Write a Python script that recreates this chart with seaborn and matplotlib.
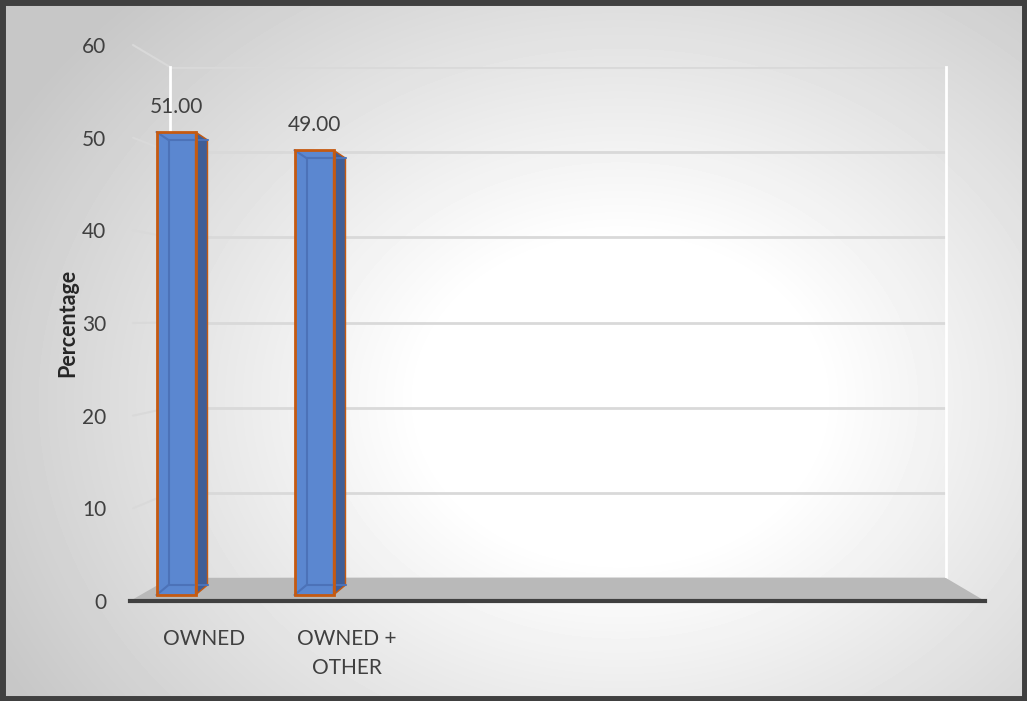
import numpy as np
import pandas as pd
import matplotlib
matplotlib.use("Agg")
import matplotlib.pyplot as plt
from matplotlib.patches import Polygon, Rectangle
from matplotlib.lines import Line2D
import seaborn as sns

# ---- data ----
categories = ["OWNED", "OWNED +\nOTHER"]
values = [51.00, 49.00]
y_ticks = [0, 10, 20, 30, 40, 50, 60]
n_slots = 6

sns.set_theme(style="white")
plt.rcParams["font.family"] = ["Lato", "DejaVu Sans"]

W, H = 1027, 701
fig = plt.figure(figsize=(W / 100, H / 100), dpi=100)


def frac(x0, x1, y_bottom, y_top):
    """pixel box (top-left origin) -> figure fraction rect"""
    return [x0 / W, (H - y_bottom) / H, (x1 - x0) / W, (y_bottom - y_top) / H]


# ---- radial background ----
bg = fig.add_axes([0, 0, 1, 1], zorder=-10)
yy, xx = np.mgrid[0:H, 0:W]
d = np.hypot(xx - 620, (yy - 400) / 0.8)
t = np.clip((d - 200) / 500, 0, 1)
shade = 1.0 - 0.22 * t
bg.imshow(shade, cmap="gray", vmin=0, vmax=1, extent=[0, W, H, 0], aspect="auto",
          interpolation="bilinear")
bg.set_xlim(0, W)
bg.set_ylim(H, 0)
bg.axis("off")
bg.add_patch(Rectangle((2, 2), W - 4, H - 4, fill=False, ec="#404040", lw=5))

# ---- back wall (gridlines live here) ----
back = fig.add_axes(frac(170, 946, 578, 67), zorder=1)
back.patch.set_alpha(0)
back.set_ylim(0, 60)
back.set_xlim(-0.5, n_slots - 0.5)
back.set_yticks(y_ticks)
back.set_xticks([])
back.tick_params(left=False, labelleft=False)
back.grid(axis="y", color="#D9D9D9", lw=2)
for s in ("left", "right"):
    back.spines[s].set_color("white")
    back.spines[s].set_linewidth(2)
back.spines["top"].set_visible(False)
back.spines["bottom"].set_visible(False)

# ---- front plane: value axis and category axis ----
ax = fig.add_axes(frac(130, 985, 601, 45), zorder=2)
ax.patch.set_alpha(0)
ax.set_ylim(0, 60)
ax.set_xlim(-0.52, n_slots - 0.52)
ax.set_yticks(y_ticks)
ax.set_yticklabels([str(v) for v in y_ticks])
ax.set_xticks(range(len(categories)))
ax.set_xticklabels(categories, linespacing=1.6)
ax.tick_params(axis="both", length=0, colors="#404040", labelsize=15)
ax.tick_params(axis="y", pad=17)
ax.tick_params(axis="x", pad=20)
for s in ("left", "right", "top"):
    ax.spines[s].set_visible(False)
ax.spines["bottom"].set_color("#404040")
ax.spines["bottom"].set_linewidth(3)
ax.set_ylabel("Percentage", fontsize=15.5, fontweight="bold", color="#262626", labelpad=3)

to_fig = fig.transFigure.inverted()


def fpt(axes, x, y):
    return to_fig.transform(axes.transData.transform((x, y)))


# floor between the back wall base and the front axis line
x0, x1 = ax.get_xlim()
bx0, bx1 = back.get_xlim()
floor = [fpt(ax, x0, 0), fpt(ax, x1, 0), fpt(back, bx1, 0), fpt(back, bx0, 0)]
fig.add_artist(Polygon(floor, closed=True, transform=fig.transFigure,
                       fc="#B9B9B9", ec="none", zorder=1.5))

# side-wall gridline stubs joining the value axis to the back wall
for v in y_ticks[1:]:
    p0 = fpt(ax, x0, v) + np.array([3 / W, 0])
    p1 = fpt(back, bx0, v)
    fig.add_artist(Line2D([p0[0], p1[0]], [p0[1], p1[1]], transform=fig.transFigure,
                          color="#D9D9D9", lw=1.5, zorder=1))

# ---- bars (middle depth plane) ----
bx = fig.add_axes(frac(130, 985, 595, 50.3), zorder=3)
bx.patch.set_alpha(0)
df = pd.DataFrame({"category": categories, "value": values})
sns.barplot(data=df, x="category", y="value", ax=bx, color="#5B87D0",
            width=39 / 138, saturation=1, edgecolor="none", linewidth=0)
bx.set_xlim((130 - 176) / 138, (985 - 176) / 138)
bx.set_ylim(0, 60)
bx.axis("off")

dx, dy_top, dy_bot = 12 / W, -8 / H, 10 / H
for patch, v in zip(bx.patches, values):
    xl, xr = patch.get_x(), patch.get_x() + patch.get_width()
    tl, tr = fpt(bx, xl, v), fpt(bx, xr, v)
    bl, br = fpt(bx, xl, 0), fpt(bx, xr, 0)
    # right side face
    side = [tr, tr + [dx, dy_top], br + [dx, dy_bot], br]
    fig.add_artist(Polygon(side, closed=True, transform=fig.transFigure,
                           fc="#405E96", ec="#C55A11", lw=1.0, zorder=3.5))
    # back edges seen through the translucent front face
    btl = tl + [dx, dy_top]
    bbl = bl + [dx, dy_bot]
    btr = tr + [dx, dy_top]
    bbr = br + [dx, dy_bot]
    for a, b in ((btl, bbl), (btl, btr), (bbl, bbr), (tl, btl), (bl, bbl)):
        fig.add_artist(Line2D([a[0], b[0]], [a[1], b[1]], transform=fig.transFigure,
                              color="#4C72B8", lw=1.5, zorder=3.6))
    # front outline on top
    fig.add_artist(Polygon([tl, tr, br, bl], closed=True, transform=fig.transFigure,
                           fc="none", ec="#C55A11", lw=2, zorder=3.7))
    bx.annotate(f"{v:.2f}", (patch.get_x() + patch.get_width() / 2, v),
                xytext=(0, 11), textcoords="offset points", ha="center", va="bottom",
                fontsize=15, color="#404040")

fig.savefig("out.png", dpi=100)
